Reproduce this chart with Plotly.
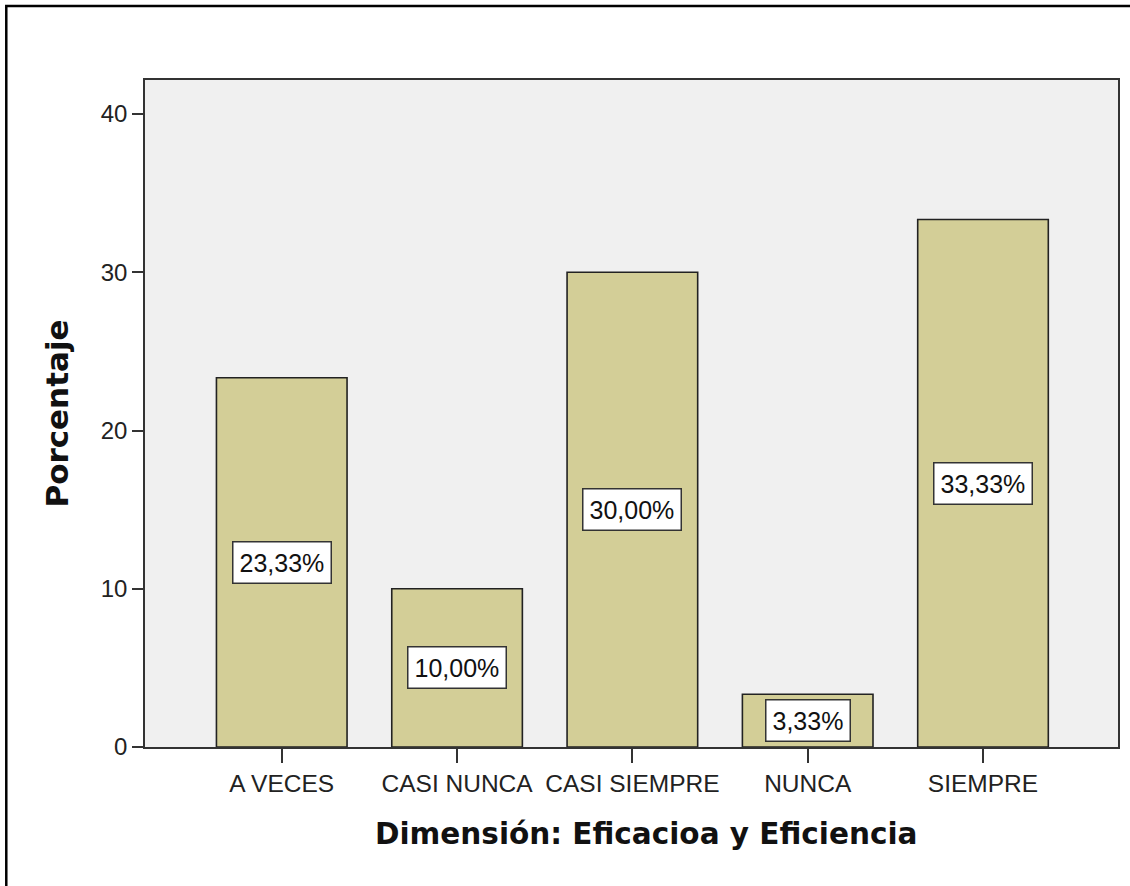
import plotly.graph_objects as go

categories = ["A VECES", "CASI NUNCA", "CASI SIEMPRE", "NUNCA", "SIEMPRE"]
values = [23.33, 10.00, 30.00, 3.33, 33.33]
labels = ["23,33%", "10,00%", "30,00%", "3,33%", "33,33%"]
y_ticks = [0, 10, 20, 30, 40]

FONT = "Liberation Sans, Arial, sans-serif"
TFONT = "DejaVu Sans, Verdana, sans-serif"

fig = go.Figure()
fig.add_trace(go.Bar(
    x=categories, y=values,
    width=0.745,
    marker=dict(color="#D3CE97", line=dict(color="#222", width=1.6)),
    hoverinfo="skip",
))

for c, v, t in zip(categories, values, labels):
    fig.add_annotation(
        x=c, y=v / 2, text=t, showarrow=False,
        font=dict(family=FONT, size=25, color="#111"),
        bgcolor="white", bordercolor="#333", borderwidth=1.5, borderpad=6,
        xref="x", yref="y",
    )

pw = 1130 - 145 - 10
ph = 886 - 80 - 139

# x-axis title placed as annotation (slightly right of plot centre as in the reference)
fig.add_annotation(
    text="<b>Dimensión: Eficacioa y Eficiencia</b>", showarrow=False,
    xref="paper", yref="paper",
    x=(647 - 145) / pw, y=-(834 - 747) / ph,
    xanchor="center", yanchor="middle",
    font=dict(family=TFONT, size=29.5, color="#111"),
)

fig.update_layout(
    width=1130, height=886,
    margin=dict(l=145, r=10, t=80, b=139),
    paper_bgcolor="white", plot_bgcolor="#F0F0F0",
    showlegend=False,
    font=dict(family=FONT, color="#222"),
    shapes=[dict(type="rect", xref="paper", yref="paper",
                 x0=(6 - 145) / pw, x1=(1140 - 145) / pw,
                 y0=-(139 + 20) / ph, y1=(886 - 139 - 6) / ph,
                 line=dict(color="black", width=2.5), fillcolor="rgba(0,0,0,0)",
                 layer="above")],
)

fig.update_xaxes(
    range=[-0.78, 4.77], type="category",
    showline=True, linecolor="#333", linewidth=1.6, mirror=True,
    ticks="outside", ticklen=14, tickwidth=1.6, tickcolor="#333",
    tickfont=dict(family=FONT, size=24.5, color="#222"),
    showgrid=False,
)
fig.update_yaxes(
    range=[0, 42.15], tickvals=y_ticks,
    showline=True, linecolor="#333", linewidth=1.6, mirror=True,
    ticks="outside", ticklen=11, tickwidth=1.6, tickcolor="#333",
    tickfont=dict(family=FONT, size=24, color="#222"),
    showgrid=False, zeroline=False,
    title=dict(text="<b>Porcentaje</b>",
               font=dict(family=TFONT, size=31, color="#111"), standoff=23),
)

fig.write_html("out.html")
